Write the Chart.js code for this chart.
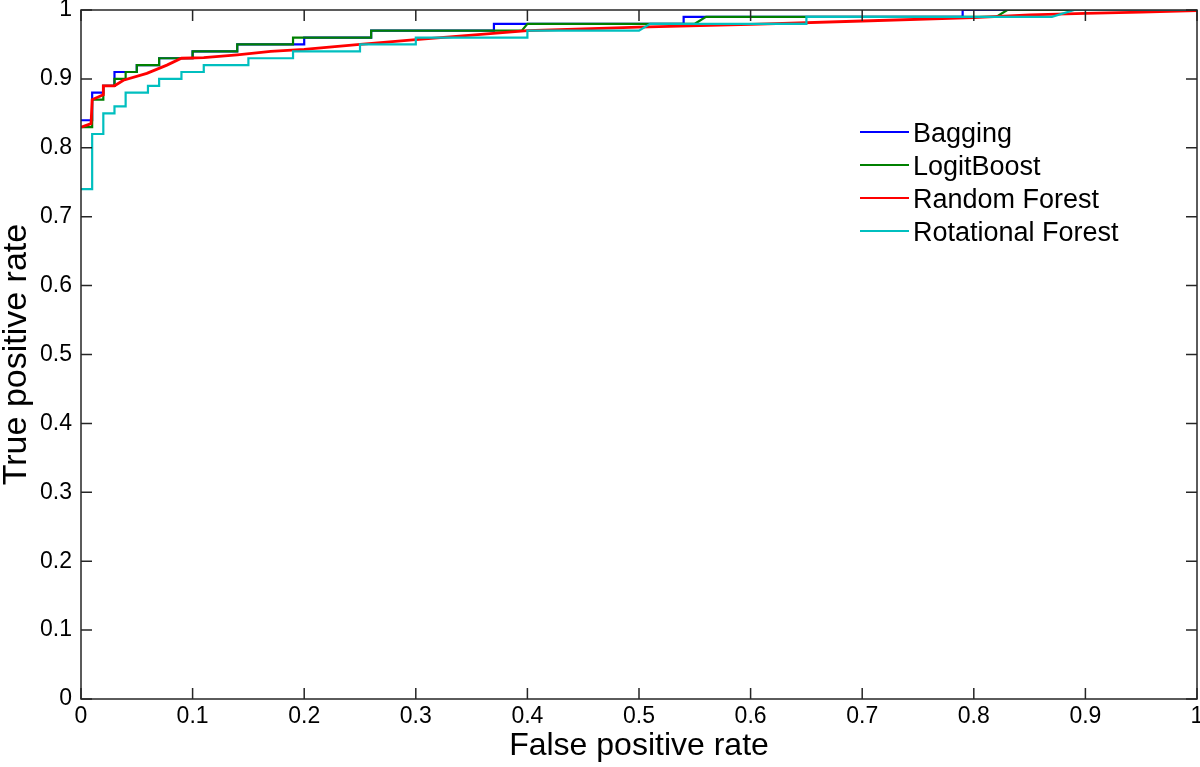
<!DOCTYPE html>
<html>
<head>
<meta charset="utf-8">
<script src="https://cdn.jsdelivr.net/npm/chart.js@4/dist/chart.umd.min.js"></script>
<style>
  html, body { margin: 0; padding: 0; background: #fff; }
  canvas { display: block; }
</style>
</head>
<body>
<canvas id="rocChart" width="1200" height="767"></canvas>
<script>
// ---------- Data ----------
const seriesNames = ['Bagging', 'LogitBoost', 'Random Forest', 'Rotational Forest'];
const seriesColors = ['#0000ff', '#008000', '#ff0000', '#00bfbf'];

const baggingFpr = [0, 0.01, 0.01, 0.02, 0.02, 0.03, 0.03, 0.05, 0.05, 0.07, 0.07, 0.10, 0.10, 0.14, 0.14, 0.20, 0.20, 0.26, 0.26, 0.37, 0.37, 0.54, 0.54, 0.79, 0.79, 1];
const baggingTpr = [0.84, 0.84, 0.88, 0.88, 0.89, 0.89, 0.91, 0.91, 0.92, 0.92, 0.93, 0.93, 0.94, 0.94, 0.95, 0.95, 0.96, 0.96, 0.97, 0.97, 0.98, 0.98, 0.99, 0.99, 1, 1];

const logitFpr = [0, 0.01, 0.01, 0.02, 0.02, 0.03, 0.03, 0.04, 0.04, 0.05, 0.05, 0.07, 0.07, 0.10, 0.10, 0.14, 0.14, 0.19, 0.19, 0.26, 0.26, 0.395, 0.40, 0.55, 0.56, 0.82, 0.83, 1];
const logitTpr = [0.83, 0.83, 0.87, 0.87, 0.89, 0.89, 0.90, 0.90, 0.91, 0.91, 0.92, 0.92, 0.93, 0.93, 0.94, 0.94, 0.95, 0.95, 0.96, 0.96, 0.97, 0.97, 0.98, 0.98, 0.99, 0.99, 1, 1];

const forestFpr = [0, 0.009, 0.01, 0.02, 0.02, 0.03, 0.038, 0.059, 0.077, 0.09, 0.11, 0.14, 0.17, 0.20, 0.25, 0.30, 0.40, 0.50, 0.60, 0.70, 0.80, 0.85, 0.90, 0.95, 1];
const forestTpr = [0.83, 0.835, 0.87, 0.877, 0.89, 0.89, 0.898, 0.908, 0.92, 0.93, 0.931, 0.935, 0.94, 0.943, 0.95, 0.957, 0.97, 0.975, 0.979, 0.984, 0.989, 0.993, 0.995, 0.997, 0.999];

const rotationFpr = [0, 0.01, 0.01, 0.02, 0.02, 0.03, 0.03, 0.04, 0.04, 0.06, 0.06, 0.07, 0.07, 0.09, 0.09, 0.11, 0.11, 0.15, 0.15, 0.19, 0.19, 0.25, 0.25, 0.30, 0.30, 0.40, 0.40, 0.50, 0.51, 0.65, 0.65, 0.87, 0.89, 1];
const rotationTpr = [0.74, 0.74, 0.82, 0.82, 0.85, 0.85, 0.86, 0.86, 0.88, 0.88, 0.89, 0.89, 0.90, 0.90, 0.91, 0.91, 0.92, 0.92, 0.93, 0.93, 0.94, 0.94, 0.95, 0.95, 0.96, 0.96, 0.97, 0.97, 0.98, 0.98, 0.99, 0.99, 1, 1];

const axisTicks = [0, 0.1, 0.2, 0.3, 0.4, 0.5, 0.6, 0.7, 0.8, 0.9, 1];

const toPoints = (xs, ys) => xs.map((x, i) => ({ x: x, y: ys[i] }));
const curves = [
    toPoints(baggingFpr, baggingTpr),
    toPoints(logitFpr, logitTpr),
    toPoints(forestFpr, forestTpr),
    toPoints(rotationFpr, rotationTpr)
];

const FONT = 'Liberation Sans, Arial, sans-serif';

// ---------- Box, inward ticks and legend (MATLAB look) ----------
const matlabAxes = {
    id: 'matlabAxes',
    afterDraw(chart) {
        const { ctx, chartArea: a, scales } = chart;
        const len = 11;
        ctx.save();
        ctx.strokeStyle = '#262626';
        ctx.lineWidth = 1.5;
        ctx.strokeRect(a.left, a.top, a.right - a.left, a.bottom - a.top);
        ctx.beginPath();
        axisTicks.forEach(v => {
            const px = scales.x.getPixelForValue(v);
            ctx.moveTo(px, a.bottom); ctx.lineTo(px, a.bottom - len);
            ctx.moveTo(px, a.top); ctx.lineTo(px, a.top + len);
            const py = scales.y.getPixelForValue(v);
            ctx.moveTo(a.left, py); ctx.lineTo(a.left + len, py);
            ctx.moveTo(a.right, py); ctx.lineTo(a.right - len, py);
        });
        ctx.stroke();

        // legend
        ctx.font = '27px ' + FONT;
        ctx.textBaseline = 'alphabetic';
        ctx.fillStyle = '#000';
        chart.data.datasets.forEach((ds, i) => {
            const y = 132 + i * 33;
            ctx.strokeStyle = ds.borderColor;
            ctx.lineWidth = 2;
            ctx.beginPath();
            ctx.moveTo(860, y); ctx.lineTo(909, y);
            ctx.stroke();
            ctx.fillText(ds.label, 913, y + 9.5);
        });
        ctx.restore();
    }
};

const ctx = document.getElementById('rocChart').getContext('2d');
const rocChart = new Chart(ctx, {
    type: 'scatter',
    data: {
        datasets: curves.map((pts, i) => ({
            label: seriesNames[i],
            data: pts,
            showLine: true,
            borderColor: seriesColors[i],
            backgroundColor: seriesColors[i],
            borderWidth: i === 2 ? 2.8 : 2.2,
            pointRadius: 0,
            pointHoverRadius: 0,
            tension: 0,
            order: 4 - i
        }))
    },
    options: {
        responsive: false,
        animation: false,
        devicePixelRatio: 1,
        layout: { padding: { top: 10, right: 3, left: 0, bottom: 0 } },
        plugins: {
            legend: { display: false },
            tooltip: { enabled: false }
        },
        scales: {
            x: {
                type: 'linear',
                min: 0, max: 1,
                afterBuildTicks: s => { s.ticks = axisTicks.map(v => ({ value: v })); },
                afterFit: s => { s.height = 68; s.paddingLeft = 0; s.paddingRight = 0; },
                grid: { display: false, drawTicks: false },
                border: { display: false },
                ticks: {
                    padding: 4,
                    color: '#000',
                    font: { family: FONT, size: 23 },
                    callback: v => String(+v.toFixed(1))
                },
                title: {
                    display: true,
                    text: 'False positive rate',
                    color: '#000',
                    font: { family: FONT, size: 32 },
                    padding: { top: 0, bottom: 2 }
                }
            },
            y: {
                type: 'linear',
                min: 0, max: 1,
                afterBuildTicks: s => { s.ticks = axisTicks.map(v => ({ value: v })); },
                afterFit: s => { s.width = 81; s.paddingTop = 0; s.paddingBottom = 0; },
                grid: { display: false, drawTicks: false },
                border: { display: false },
                ticks: {
                    padding: 9,
                    color: '#000',
                    font: { family: FONT, size: 23 },
                    callback: v => String(+v.toFixed(1))
                },
                title: {
                    display: true,
                    text: 'True positive rate',
                    color: '#000',
                    font: { family: FONT, size: 34, lineHeight: 1.0 },
                    padding: { top: 0, bottom: 0 }
                }
            }
        }
    },
    plugins: [matlabAxes]
});
</script>
</body>
</html>
